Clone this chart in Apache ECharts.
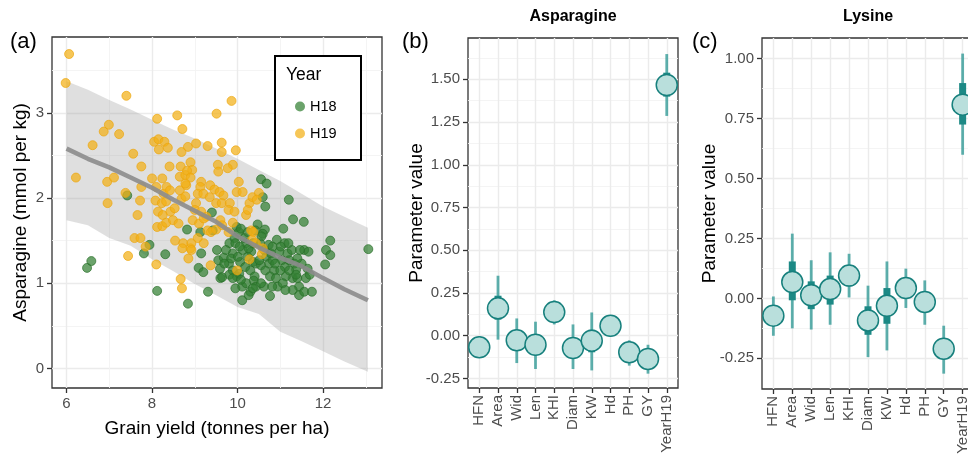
<!DOCTYPE html>
<html><head><meta charset="utf-8">
<script src="https://cdn.jsdelivr.net/npm/echarts@6/dist/echarts.min.js"></script>
<style>html,body{margin:0;padding:0;background:#fff}#c{width:968px;height:458px}</style>
</head><body><div id="c"></div><script>
// ---------- Panel (a) data ----------
const h18 = [[6.48,1.18],[6.58,1.26],[7.42,2.03],[7.94,1.45],[7.81,1.35],[8.31,1.34],[8.12,0.91],[8.84,0.76],[8.82,1.63],[9.13,1.60],[9.40,1.83],[9.15,1.35],[9.09,1.18],[9.20,1.13],[9.31,0.90],[9.42,1.62],[9.52,1.39],[9.55,1.27],[9.59,1.17],[9.60,1.06],[9.64,1.07],[9.68,1.30],[9.81,1.47],[9.93,1.53],[9.98,1.66],[10.03,1.60],[10.08,1.64],[9.95,1.47],[9.89,1.35],[9.80,1.23],[9.89,1.15],[9.98,1.08],[9.95,0.94],[10.11,0.96],[10.11,0.80],[10.06,1.25],[10.12,1.39],[10.20,1.47],[10.24,1.31],[10.18,1.19],[10.30,1.15],[10.36,1.25],[10.40,1.08],[10.43,1.23],[10.38,1.03],[10.43,0.96],[10.30,0.90],[10.26,0.86],[10.47,1.69],[10.42,1.62],[10.55,2.22],[10.68,2.17],[10.59,2.01],[10.65,1.90],[10.64,1.63],[10.59,1.58],[10.53,1.47],[10.63,1.39],[10.73,1.45],[10.67,1.31],[10.55,1.21],[10.65,1.15],[10.74,1.23],[10.82,1.27],[10.86,1.15],[10.76,1.08],[10.62,0.96],[10.76,0.85],[10.90,1.06],[10.94,0.96],[10.98,1.37],[10.92,1.51],[11.10,1.47],[11.07,1.64],[11.20,1.98],[11.30,1.75],[11.55,1.72],[11.04,1.27],[11.11,1.19],[11.17,1.35],[11.21,1.27],[11.27,1.39],[11.33,1.23],[11.37,1.16],[11.29,1.06],[11.13,1.08],[11.06,1.00],[11.40,1.06],[11.44,0.96],[11.44,0.86],[11.56,0.90],[11.60,1.06],[11.69,1.10],[11.74,0.90],[11.50,1.23],[11.56,1.39],[11.66,1.37],[11.64,1.17],[11.46,1.39],[11.40,1.29],[12.17,1.50],[12.07,1.39],[12.17,1.33],[12.05,1.22],[13.06,1.40],[10.16,1.53],[10.24,1.60],[10.05,1.43],[9.73,1.39],[9.85,1.29],[10.01,1.31],[10.32,1.37],[10.51,1.27],[10.78,1.35],[10.88,1.23],[11.00,1.15],[11.21,1.15],[11.37,1.10],[11.19,1.47],[11.01,1.43],[10.82,1.43],[10.55,1.00],[10.20,1.00],[10.04,1.11],[9.81,1.10],[9.69,1.23],[9.89,1.06],[10.08,1.04],[10.36,0.94],[10.81,0.96],[11.29,0.92],[11.12,0.92],[10.26,1.41],[10.36,1.47],[10.56,1.55]];
const h19 = [[6.06,3.69],[5.98,3.35],[6.22,2.24],[6.61,2.62],[6.87,2.78],[6.99,2.86],[7.23,2.75],[7.40,3.20],[7.56,2.52],[7.75,2.37],[6.95,2.19],[7.11,2.24],[6.96,1.94],[7.38,2.06],[7.44,1.32],[7.59,1.53],[7.73,1.53],[7.66,1.80],[7.72,1.97],[7.75,2.13],[7.85,1.43],[8.12,2.93],[8.59,2.97],[8.71,2.81],[8.05,2.66],[8.15,2.69],[8.29,2.66],[8.16,2.57],[8.37,2.59],[8.41,2.37],[8.00,2.23],[8.10,2.13],[8.24,2.23],[8.27,2.05],[8.34,2.13],[8.42,2.09],[8.08,1.97],[8.23,1.94],[8.14,1.84],[8.25,1.80],[8.43,1.84],[8.53,1.88],[8.33,1.96],[8.12,1.66],[8.24,1.67],[8.33,1.71],[8.49,1.74],[8.62,1.70],[8.54,1.50],[8.73,1.47],[8.71,1.41],[8.90,1.41],[8.92,1.47],[8.85,1.29],[8.10,1.22],[8.67,1.05],[8.70,0.94],[8.67,2.37],[8.69,2.54],[8.65,2.25],[8.78,2.27],[8.80,2.15],[8.65,2.09],[8.69,1.99],[8.78,2.02],[8.90,2.42],[8.84,2.60],[8.94,2.33],[9.03,2.64],[9.30,2.61],[9.51,2.99],[9.63,2.65],[9.63,2.54],[9.86,3.14],[9.96,2.56],[9.89,2.39],[9.77,2.35],[9.54,2.39],[9.55,2.31],[9.36,2.15],[9.15,2.19],[9.13,2.13],[9.07,2.05],[9.20,2.05],[9.35,2.01],[9.46,2.10],[9.58,2.07],[9.67,2.03],[9.50,1.94],[9.63,1.94],[9.82,1.94],[9.79,1.86],[9.93,1.84],[10.03,2.19],[9.98,2.07],[10.12,2.07],[9.03,1.94],[9.00,1.86],[9.15,1.84],[9.27,1.78],[8.95,1.74],[9.10,1.70],[9.21,1.76],[9.30,1.62],[9.38,1.60],[9.50,1.63],[9.60,1.74],[9.64,1.68],[9.79,1.60],[9.89,1.71],[9.07,1.53],[9.21,1.47],[9.37,1.21],[8.92,1.39],[10.20,1.80],[10.28,1.94],[10.35,2.01],[10.50,2.06],[10.45,1.98],[10.24,1.86],[10.32,1.62],[10.37,1.60],[10.34,1.51],[10.43,1.47],[10.59,1.41],[10.57,1.34],[10.28,1.28],[9.99,1.15],[8.82,2.32],[8.90,2.24],[8.78,2.17]];
const bandX     = [6.0, 6.5, 7.0, 7.5, 8.0, 8.5, 9.0, 9.5, 10.0, 10.5, 11.0, 11.5, 12.0, 12.5, 13.05];
const bandUpper = [3.37,3.27,3.15,3.04,2.92,2.80,2.70,2.58,2.46,2.33,2.20,2.05,1.90,1.78,1.65];
const bandLower = [1.74,1.68,1.53,1.44,1.28,1.14,0.99,0.86,0.72,0.64,0.43,0.32,0.20,0.08,-0.04];
const trendY    = [2.58,2.46,2.36,2.24,2.12,1.98,1.85,1.72,1.55,1.42,1.30,1.20,1.06,0.93,0.80];
const xTicksA = [6, 8, 10, 12];
const xMinorA = [7, 9, 11, 13];
const yTicksA = [0, 1, 2, 3];
const yMinorA = [0.5, 1.5, 2.5, 3.5];

// ---------- Panels (b), (c) data ----------
const categories = ['HFN','Area','Wid','Len','KHI','Diam','KW','Hd','PH','GY','YearH19'];
const asnMean = [-0.068,0.160,-0.027,-0.053,0.138,-0.072,-0.029,0.058,-0.097,-0.136,1.467];
const asnLo95 = [-0.121,-0.023,-0.160,-0.195,0.066,-0.195,-0.203,-0.004,-0.175,-0.222,1.286];
const asnHi95 = [-0.004,0.351,0.101,0.082,0.207,0.066,0.136,0.121,-0.027,-0.053,1.648];
const asnLo50 = [-0.095,0.094,-0.082,-0.105,0.110,-0.121,-0.097,0.030,-0.125,-0.170,1.399];
const asnHi50 = [-0.040,0.234,0.025,0.000,0.165,-0.023,0.035,0.085,-0.070,-0.100,1.539];
const lysMean = [-0.072,0.068,0.013,0.039,0.095,-0.092,-0.031,0.043,-0.015,-0.210,0.808];
const lysLo95 = [-0.156,-0.125,-0.130,-0.110,0.004,-0.245,-0.217,-0.040,-0.110,-0.314,0.599];
const lysHi95 = [0.008,0.270,0.159,0.192,0.186,0.053,0.154,0.124,0.075,-0.114,1.021];
const lysLo50 = [-0.110,-0.008,-0.045,-0.026,0.050,-0.152,-0.106,0.005,-0.054,-0.252,0.725];
const lysHi50 = [-0.035,0.154,0.071,0.095,0.135,-0.033,0.043,0.080,0.022,-0.170,0.898];
const yTicksB = [-0.25,0,0.25,0.5,0.75,1,1.25,1.5];
const yMinorB = [-0.125,0.125,0.375,0.625,0.875,1.125,1.375,1.625];
const yTicksC = [-0.25,0,0.25,0.5,0.75,1];
const yMinorC = [-0.125,0.125,0.375,0.625,0.875];

const FONT = '"Liberation Sans", Arial, sans-serif';
const catPos = categories.map((c,i)=>i+1);
const majorLine = {show:true, lineStyle:{color:'#ebebeb', width:1.4}};
const minorLine = {show:true, lineStyle:{color:'#f3f3f3', width:0.9}};
const tickStyle = {color:'#333', width:1.3};
const labelStyle = {color:'#4d4d4d', fontSize:15, fontFamily:FONT};

function majorAxis(grid, min, max, ticks, fmt, extra) {
  return Object.assign({
    type:'value', gridIndex:grid, min:min, max:max, nameMoveOverlap:false,
    axisLine:{show:false, onZero:false},
    axisTick:{show:true, length:5, lineStyle:tickStyle, customValues:ticks},
    axisLabel:Object.assign({customValues:ticks, formatter:fmt, margin:8}, labelStyle),
    splitLine:majorLine, minorSplitLine:{show:false}
  }, extra||{});
}
function minorAxis(grid, min, max, ticks) {
  return {type:'value', gridIndex:grid, min:min, max:max, show:true,
    axisLine:{show:false, onZero:false}, axisLabel:{show:false},
    axisTick:{show:false, customValues:ticks}, splitLine:minorLine};
}
const f2 = v => v.toFixed(2);
const fInt = v => String(v);
const fCat = v => categories[Math.round(v)-1] || '';

function ciData(lo95, hi95, lo50, hi50) {
  return categories.map((c,i)=>[catPos[i], lo95[i], hi95[i], lo50[i], hi50[i]]);
}
function renderCI(params, api) {
  const x = api.value(0);
  const a = api.coord([x, api.value(1)]), b = api.coord([x, api.value(2)]);
  const c = api.coord([x, api.value(3)]), d = api.coord([x, api.value(4)]);
  return {type:'group', children:[
    {type:'line', shape:{x1:a[0],y1:a[1],x2:b[0],y2:b[1]}, style:{stroke:'rgba(40,150,145,0.75)', lineWidth:2.8}},
    {type:'line', shape:{x1:c[0],y1:c[1],x2:d[0],y2:d[1]}, style:{stroke:'#1c8985', lineWidth:7}}
  ]};
}
const pointStyle = {color:'#b9dfdc', borderColor:'#17807d', borderWidth:1.5, opacity:1};
const catLabel = Object.assign({customValues:catPos, formatter:fCat, rotate:90, margin:7}, labelStyle);

const chart = echarts.init(document.getElementById('c'), null, {renderer:'canvas'});
chart.setOption({
  animation:false,
  backgroundColor:'#fff',
  textStyle:{fontFamily:FONT},
  grid:[
    {left:52, top:37, width:330, height:351, show:true, borderColor:'#333', borderWidth:1.3, backgroundColor:'transparent', containLabel:false, outerBoundsMode:'none'},
    {left:468, top:38, width:210, height:350, show:true, borderColor:'#333', borderWidth:1.3, backgroundColor:'transparent', containLabel:false, outerBoundsMode:'none'},
    {left:762, top:38, width:212, height:351, show:true, borderColor:'#333', borderWidth:1.3, backgroundColor:'transparent', containLabel:false, outerBoundsMode:'none'}
  ],
  xAxis:[
    majorAxis(0, 5.66, 13.38, xTicksA, fInt, {name:'Grain yield (tonnes per ha)', nameLocation:'middle', nameGap:31,
      nameTextStyle:{fontSize:19, color:'#000', fontFamily:FONT}}),
    minorAxis(0, 5.66, 13.38, xMinorA),
    majorAxis(1, 0.4, 11.6, catPos, fCat, {axisLabel:catLabel}),
    majorAxis(2, 0.4, 11.6, catPos, fCat, {axisLabel:catLabel})
  ],
  yAxis:[
    majorAxis(0, -0.23, 3.89, yTicksA, fInt, {name:'Asparagine (mmol per kg)', nameLocation:'middle', nameGap:22,
      nameTextStyle:{fontSize:19, color:'#000', fontFamily:FONT}}),
    minorAxis(0, -0.23, 3.89, yMinorA),
    majorAxis(1, -0.306, 1.742, yTicksB, f2, {name:'Parameter value', nameLocation:'middle', nameGap:42,
      nameTextStyle:{fontSize:19, color:'#000', fontFamily:FONT}}),
    minorAxis(1, -0.306, 1.742, yMinorB),
    majorAxis(2, -0.378, 1.086, yTicksC, f2, {name:'Parameter value', nameLocation:'middle', nameGap:43,
      nameTextStyle:{fontSize:19, color:'#000', fontFamily:FONT}}),
    minorAxis(2, -0.378, 1.086, yMinorC)
  ],
  legend:{data:['H18','H19'], orient:'vertical', left:295, top:99, itemWidth:10, itemHeight:10, itemGap:12,
    icon:'circle', selectedMode:false, padding:0, z:20,
    itemStyle:{borderWidth:0},
    textStyle:{fontSize:14.5, color:'#000', fontFamily:FONT}},
  graphic:[
    {type:'rect', z:10, shape:{x:275, y:56, width:86, height:104}, style:{fill:'#fff', stroke:'#000', lineWidth:2}},
    {type:'text', z:11, x:286, y:75, style:{text:'Year', font:'17.5px '+FONT, fill:'#000', textVerticalAlign:'middle'}},
    {type:'text', x:10, y:42, style:{text:'(a)', font:'22px '+FONT, fill:'#000', textVerticalAlign:'middle'}},
    {type:'text', x:402, y:42, style:{text:'(b)', font:'22px '+FONT, fill:'#000', textVerticalAlign:'middle'}},
    {type:'text', x:692, y:42, style:{text:'(c)', font:'22px '+FONT, fill:'#000', textVerticalAlign:'middle'}},
    {type:'text', x:573, y:17, style:{text:'Asparagine', font:'bold 16px '+FONT, fill:'#000', textAlign:'center', textVerticalAlign:'middle'}},
    {type:'text', x:868, y:17, style:{text:'Lysine', font:'bold 16px '+FONT, fill:'#000', textAlign:'center', textVerticalAlign:'middle'}}
  ],
  series:[
    {type:'custom', name:'band', xAxisIndex:0, yAxisIndex:0, silent:true, z:1,
     data:[[bandX[0], bandUpper[0]]],
     renderItem:function(params, api){
       const pts = [];
       for (let i=0;i<bandX.length;i++) pts.push(api.coord([bandX[i], bandUpper[i]]));
       for (let i=bandX.length-1;i>=0;i--) pts.push(api.coord([bandX[i], bandLower[i]]));
       return {type:'polygon', shape:{points:pts}, style:{fill:'rgba(150,150,150,0.3)'}};
     }},
    {type:'scatter', name:'H18', xAxisIndex:0, yAxisIndex:0, data:h18, symbolSize:9, z:3,
     itemStyle:{color:'rgba(50,128,50,0.72)', borderColor:'rgba(40,110,40,0.85)', borderWidth:0.8, opacity:1}},
    {type:'scatter', name:'H19', xAxisIndex:0, yAxisIndex:0, data:h19, symbolSize:9, z:3,
     itemStyle:{color:'rgba(242,176,22,0.72)', borderColor:'rgba(235,165,10,0.85)', borderWidth:0.8, opacity:1}},
    {type:'line', name:'trend', xAxisIndex:0, yAxisIndex:0, data:bandX.map((x,i)=>[x, trendY[i]]),
     showSymbol:false, silent:true, z:4, lineStyle:{color:'rgba(140,140,140,0.9)', width:4.5}},
    {type:'custom', name:'asnCI', xAxisIndex:2, yAxisIndex:2, data:ciData(asnLo95, asnHi95, asnLo50, asnHi50),
     encode:{x:0, y:[1,2,3,4]}, renderItem:renderCI, z:2},
    {type:'scatter', name:'asn', xAxisIndex:2, yAxisIndex:2, data:asnMean.map((v,i)=>[catPos[i], v]),
     symbolSize:21, itemStyle:pointStyle, z:5},
    {type:'custom', name:'lysCI', xAxisIndex:3, yAxisIndex:4, data:ciData(lysLo95, lysHi95, lysLo50, lysHi50),
     encode:{x:0, y:[1,2,3,4]}, renderItem:renderCI, z:2},
    {type:'scatter', name:'lys', xAxisIndex:3, yAxisIndex:4, data:lysMean.map((v,i)=>[catPos[i], v]),
     symbolSize:21, itemStyle:pointStyle, z:5}
  ]
});
</script></body></html>
